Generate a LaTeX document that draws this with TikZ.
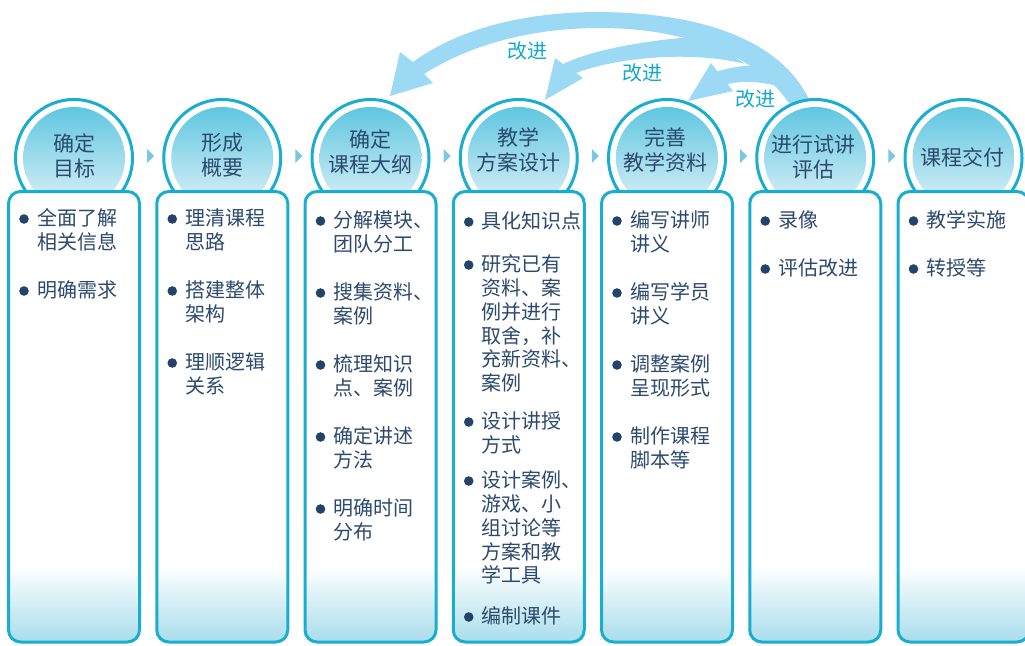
\documentclass[tikz,border=0pt]{standalone}
\usepackage{fontspec}
\newfontfamily\cjk{Noto Sans CJK SC}
\definecolor{ringc}{HTML}{19AECF}
\definecolor{arrowc}{HTML}{9CD9F5}
\definecolor{labc}{HTML}{12A9CB}
\definecolor{textc}{HTML}{2C4A6E}
\definecolor{dotc}{HTML}{24436A}
\definecolor{tric}{HTML}{79C8DF}
\definecolor{gtop}{HTML}{5FC6E0}
\definecolor{gbot}{HTML}{DFF2F8}
\definecolor{boxbot}{HTML}{A6DCEB}
\tikzset{
  ttl/.style={font=\cjk\fontsize{21}{25}\selectfont, text=textc, align=center, inner sep=0pt},
  bl/.style={font=\cjk\fontsize{20}{24}\selectfont, text=textc, inner sep=0pt, anchor=base west},
  lab/.style={font=\cjk\fontsize{20}{24}\selectfont, text=labc, inner sep=0pt},
  band/.style={fill=arrowc},
  ringnode/.style={circle, draw=ringc, line width=3pt, fill=white, minimum size=117pt, inner sep=0pt},
  card/.style={draw=ringc, line width=3pt, rounded corners=12pt},
  tri/.style={fill=tric},
  bdot/.style={fill=dotc}
}
\newcommand\bitem[4]{%
  \fill[bdot] (#2-50,#3+1) circle (4.8pt);
  \foreach \itm [count=\i from 0] in {#4} {
    \node[bl] (#1-\i) at (#2-37,#3+7.6+23.8*\i) {\itm};
  }
}
\begin{document}
\begin{tikzpicture}[x=1pt,y=-1pt]
\useasboundingbox (0,0) rectangle (1025,645);

% feedback arrows
\fill[band] (812,106) .. controls (787,45) and (712,13) .. (600,12)
  .. controls (510,12) and (450,35) .. (413,62)
  -- (400,52) -- (390,96) -- (433,83) -- (424,74)
  .. controls (470,45) and (530,28) .. (600,28)
  .. controls (690,28) and (762,58) .. (792,108) -- cycle;
\fill[band] (705,36) .. controls (645,40) and (592,50) .. (563,64)
  -- (555,58) -- (545,100) -- (583,78) -- (576,73)
  .. controls (615,58) and (690,50) .. (745,64) -- cycle;
\fill[band] (770,66) .. controls (755,64) and (735,66) .. (717.6,71.4)
  -- (711,63) -- (688,101) -- (733,91) -- (727.5,84)
  .. controls (745,80) and (765,82) .. (785,88) -- cycle;
\node[lab] (g1) at (527,51) {改进};
\node[lab] (g2) at (642.5,73) {改进};
\node[lab] (g3) at (755,99) {改进};

% stages
\foreach \k in {0,...,6} {
  \pgfmathsetmacro\cx{74+148.25*\k}
  \node[ringnode] (c\k) at (\cx,158) {};
  \shade[top color=gtop, bottom color=gbot] (\cx,158) circle (51pt);
  \begin{scope}
    \clip[rounded corners=12pt] (\cx-65.5,191.5) rectangle (\cx+65.5,642);
    \fill[white] (\cx-67,190) rectangle (\cx+67,568);
    \shade[top color=white, bottom color=boxbot] (\cx-67,566) rectangle (\cx+67,644);
  \end{scope}
  \draw[card] (\cx-65.5,191.5) rectangle (\cx+65.5,642);
}
\foreach \k in {0,...,5} {
  \pgfmathsetmacro\mx{74+148.25*\k+74.125}
  \fill[tri] (\mx-1,149) -- (\mx+6,156) -- (\mx-1,163) -- cycle;
}

% titles
\node[ttl] (t1) at (74,155.5) {确定\\目标};
\node[ttl] (t2) at (222.25,155.5) {形成\\概要};
\node[ttl] (t3) at (370.5,152) {确定\\课程大纲};
\node[ttl] (t4) at (518.75,150) {教学\\方案设计};
\node[ttl] (t5) at (665,150) {完善\\教学资料};
\node[ttl] (t6) at (813,157.5) {进行试讲\\评估};
\node[ttl] (t7) at (962,157) {课程交付};

% items
\bitem{a1}{74}{218}{全面了解,相关信息}
\bitem{a2}{74}{290}{明确需求}
\bitem{b1}{222.25}{218}{理清课程,思路}
\bitem{b2}{222.25}{290}{搭建整体,架构}
\bitem{b3}{222.25}{362}{理顺逻辑,关系}
\bitem{d1}{370.5}{220}{分解模块、,团队分工}
\bitem{d2}{370.5}{292}{搜集资料、,案例}
\bitem{d3}{370.5}{364}{梳理知识,点、案例}
\bitem{d4}{370.5}{436}{确定讲述,方法}
\bitem{d5}{370.5}{508}{明确时间,分布}
\bitem{e1}{518.75}{221}{具化知识点}
\bitem{e2}{518.75}{264}{研究已有,资料、案,例并进行,取舍，补,充新资料、,案例}
\bitem{e3}{518.75}{421}{设计讲授,方式}
\bitem{e4}{518.75}{480}{设计案例、,游戏、小,组讨论等,方案和教,学工具}
\bitem{e5}{518.75}{616}{编制课件}
\bitem{f1}{667}{220}{编写讲师,讲义}
\bitem{f2}{667}{292}{编写学员,讲义}
\bitem{f3}{667}{364}{调整案例,呈现形式}
\bitem{f4}{667}{436}{制作课程,脚本等}
\bitem{h1}{815.25}{220}{录像}
\bitem{h2}{815.25}{268}{评估改进}
\bitem{k1}{963.5}{220}{教学实施}
\bitem{k2}{963.5}{268}{转授等}
\end{tikzpicture}
\end{document}
